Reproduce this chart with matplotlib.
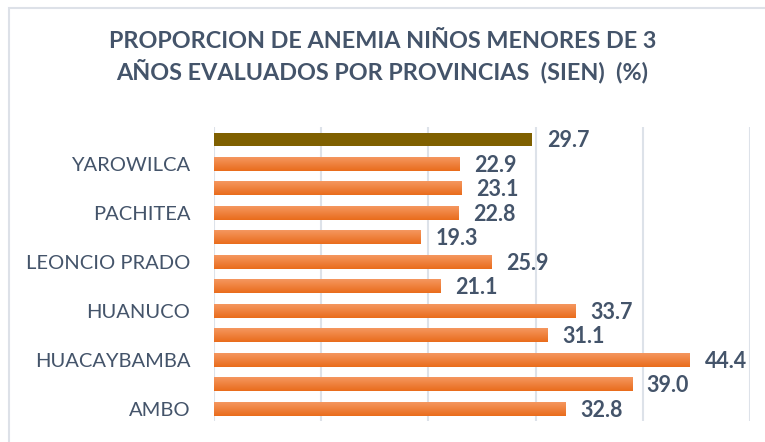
import matplotlib
matplotlib.use("Agg")
import matplotlib.pyplot as plt
import numpy as np
from matplotlib.patches import Rectangle
from matplotlib.colors import LinearSegmentedColormap

# provinces from bottom to top, last one is the regional total
provincias = ["AMBO", "DOS DE MAYO", "HUACAYBAMBA", "HUAMALIES", "HUANUCO",
              "LAURICOCHA", "LEONCIO PRADO", "MARAÑON", "PACHITEA",
              "PUERTO INCA", "YAROWILCA", "REGION HUANUCO"]
anemia = [32.8, 39.0, 44.4, 31.1, 33.7, 21.1, 25.9, 19.3, 22.8, 23.1, 22.9, 29.7]

titulo = "PROPORCION DE ANEMIA NIÑOS MENORES DE 3\nAÑOS EVALUADOS POR PROVINCIAS  (SIEN)  (%)"

plt.rcParams['font.family'] = ['Lato', 'DejaVu Sans']
texto = "#44546A"

fig = plt.figure(figsize=(7.65, 4.42), dpi=100)
ax = fig.add_axes([214/765, 21/442, 536/765, 294/442])

pos = np.arange(len(anemia))
colores = ["#EE7A30"] * (len(anemia) - 1) + ["#7F6000"]
bars = ax.barh(pos, anemia, height=0.55, color=colores, zorder=2)

# orange gradient, lighter on top, darker below (like the excel fill)
grad = LinearSegmentedColormap.from_list("naranja", ["#E96C1C", "#F5975F"])
for b in bars[:-1]:
    x0, y0 = b.get_x(), b.get_y()
    w, h = b.get_width(), b.get_height()
    ax.imshow(np.linspace(0, 1, 50).reshape(-1, 1), cmap=grad, aspect="auto",
              extent=(x0, x0 + w, y0, y0 + h), origin="lower", zorder=3)
    b.set_visible(False)

for p, v in zip(pos, anemia):
    ax.annotate(f"{v:.1f}", (v, p), xytext=(10.5, -0.8), textcoords="offset points",
                ha="left", va="center", fontsize=15.5, fontweight="bold",
                color=texto)

ax.set_xlim(0, 50)
ax.set_ylim(-0.48, 11.51)
ax.set_xticks(np.arange(0, 51, 10))
ax.set_xticklabels([])
ax.set_yticks(pos[::2])
ax.set_yticklabels(provincias[::2], fontsize=14.5, color=texto)
ax.tick_params(axis="both", length=0)
ax.tick_params(axis="y", pad=17)
ax.grid(axis="x", color="#DDE2E9", linewidth=1.5, zorder=0)
for s in ax.spines.values():
    s.set_visible(False)

fig.text(0.5, 1 - 57/442, titulo, ha="center", va="center", fontsize=16.8,
         fontweight="bold", color=texto, linespacing=1.35)

# chart area border (only top and left are visible in the picture)
fig.patches.append(Rectangle((9/765, -0.1), 1.2, 1 - 8/442 + 0.1,
                             transform=fig.transFigure, fill=False,
                             edgecolor="#DDE1E8", linewidth=1.5))

fig.savefig("out.png", dpi=100)
